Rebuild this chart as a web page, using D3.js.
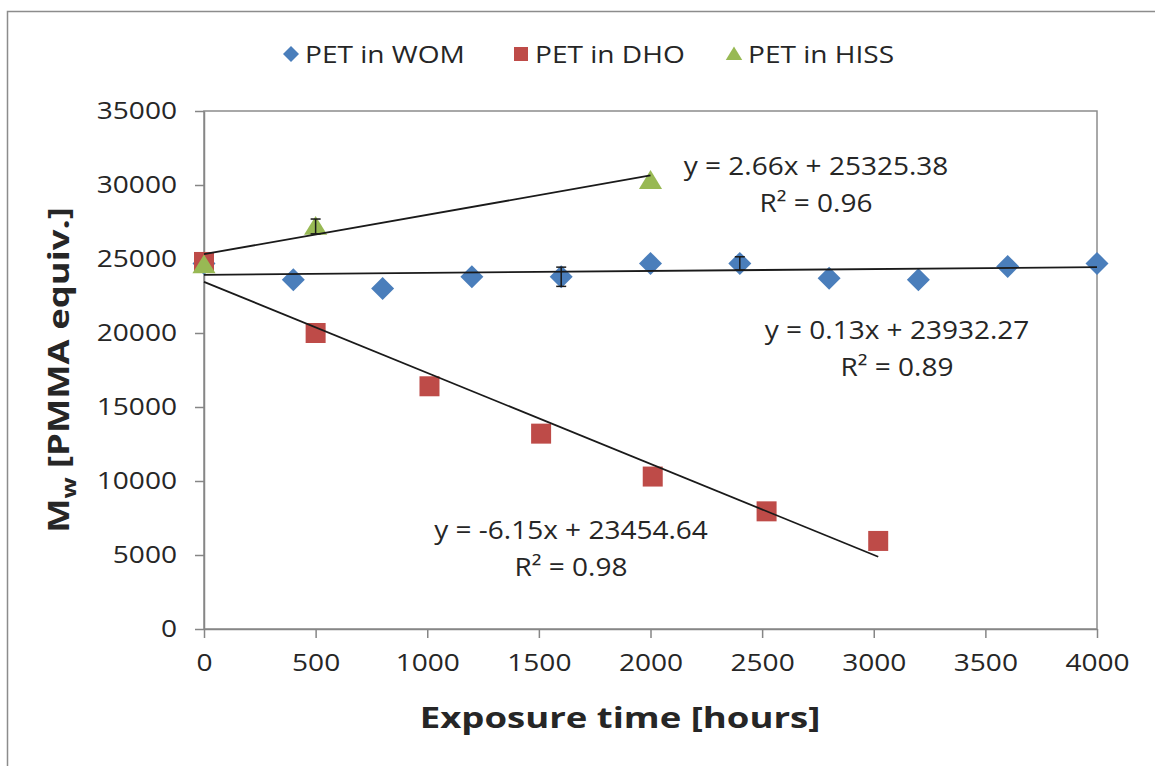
<!DOCTYPE html>
<html>
<head>
<meta charset="utf-8">
<script src="https://cdn.jsdelivr.net/npm/d3@7"></script>
<style>
  body { margin: 0; background: #fff; }
  text { font-family: "Open Sans", "Noto Sans", sans-serif; fill: #262626; }
</style>
</head>
<body>
<script>
// data
const womX = [0, 400, 800, 1200, 1600, 2000, 2400, 2800, 3200, 3600, 4000];
const womY = [24700, 23600, 23000, 23800, 23800, 24700, 24700, 23700, 23600, 24500, 24700];
const womErr = [0, 0, 0, 0, 650, 0, 450, 0, 0, 0, 0];

const dhoX = [0, 500, 1010, 1510, 2010, 2520, 3020];
const dhoY = [24800, 20000, 16400, 13200, 10300, 7950, 5950];

const hissX = [0, 500, 2000];
const hissY = [24600, 27200, 30300];
const hissErr = [0, 500, 0];

const seriesNames = ["PET in WOM", "PET in DHO", "PET in HISS"];
const fitSlope = [0.13, -6.15, 2.66];
const fitIntercept = [23932.27, 23454.64, 25325.38];
const fitText = ["y = 0.13x + 23932.27", "y = -6.15x + 23454.64", "y = 2.66x + 25325.38"];
const r2Text = ["R² = 0.89", "R² = 0.98", "R² = 0.96"];

const xTicks = [0, 500, 1000, 1500, 2000, 2500, 3000, 3500, 4000];
const yTicks = [0, 5000, 10000, 15000, 20000, 25000, 30000, 35000];

const W = 1155, H = 766,
      margin = {top: 111, right: 58, bottom: 137, left: 204},
      colors = ["#4a7ebb", "#be4b48", "#98b954"];

// the reference text is a bit wider than Open Sans, stretch it sideways
const stretchTick = 1.17, stretchEq = 1.12, stretchTitle = 1.26;

const svg = d3.select("body").append("svg")
  .attr("width", W)
  .attr("height", H);

// outer chart border
svg.append("rect")
  .attr("x", 7.5).attr("y", 11.5)
  .attr("width", W + 10).attr("height", H + 10)
  .attr("fill", "none").attr("stroke", "#8c8c8c").attr("stroke-width", 1.5);

const xScale = d3.scaleLinear().domain([0, 4000]).range([margin.left, W - margin.right]);
const yScale = d3.scaleLinear().domain([0, 35000]).range([H - margin.bottom, margin.top]);

// plot area border
svg.append("rect")
  .attr("x", xScale(0)).attr("y", yScale(35000))
  .attr("width", xScale(4000) - xScale(0))
  .attr("height", yScale(0) - yScale(35000))
  .attr("fill", "none").attr("stroke", "#8c8c8c").attr("stroke-width", 1.5);

const xAxis = d3.axisBottom(xScale).tickValues(xTicks).tickFormat(d3.format("d"))
  .tickSizeInner(9).tickSizeOuter(0).tickPadding(16);
const yAxis = d3.axisLeft(yScale).tickValues(yTicks).tickFormat(d3.format("d"))
  .tickSizeInner(9).tickSizeOuter(0);

const gx = svg.append("g")
  .attr("transform", "translate(0," + yScale(0) + ")")
  .call(xAxis);
const gy = svg.append("g")
  .attr("transform", "translate(" + xScale(0) + ",0)")
  .call(yAxis);

[gx, gy].forEach((g) => {
  g.selectAll("path, line").attr("stroke", "#868686").attr("stroke-width", 1.5);
  g.selectAll("text").style("font-size", "24px").attr("fill", "#333")
    .attr("transform", "scale(" + stretchTick + ",1)");
});
gy.selectAll("text").attr("x", -27 / stretchTick);

const series = [
  {x: womX, y: womY, err: womErr},
  {x: dhoX, y: dhoY, err: dhoX.map(() => 0)},
  {x: hissX, y: hissY, err: hissErr}
];

// marker shapes: diamond, square, triangle
const markerPath = [
  (r) => "M0," + (-r) + "L" + r + ",0L0," + r + "L" + (-r) + ",0Z",
  (r) => "M" + (-r) + "," + (-r) + "H" + r + "V" + r + "H" + (-r) + "Z",
  (r) => "M0," + (-r) + "L" + (r * 1.1) + "," + (r * 0.8) + "H" + (-r * 1.1) + "Z"
];
const markerR = [11.5, 10, 10.5];

// markers
series.forEach((s, i) => {
  const pts = s.x.map((x, j) => ({x: x, y: s.y[j], e: s.err[j]}));
  svg.append("g").selectAll("path")
    .data(pts).enter()
    .append("path")
    .attr("d", markerPath[i](markerR[i]))
    .attr("transform", (d) => "translate(" + xScale(d.x) + "," + yScale(d.y) + ")")
    .attr("fill", colors[i]);

  // error bars
  const eb = svg.append("g").selectAll("g")
    .data(pts.filter((d) => d.e > 0)).enter()
    .append("g")
    .attr("stroke", "#1a1a1a").attr("stroke-width", 1.5);
  eb.append("line")
    .attr("x1", (d) => xScale(d.x)).attr("x2", (d) => xScale(d.x))
    .attr("y1", (d) => yScale(d.y - d.e)).attr("y2", (d) => yScale(d.y + d.e));
  [-1, 1].forEach((sg) => {
    eb.append("line")
      .attr("x1", (d) => xScale(d.x) - 5).attr("x2", (d) => xScale(d.x) + 5)
      .attr("y1", (d) => yScale(d.y + sg * d.e)).attr("y2", (d) => yScale(d.y + sg * d.e));
  });
});

// trend lines
series.forEach((s, i) => {
  const x0 = d3.min(s.x), x1 = d3.max(s.x);
  svg.append("line")
    .attr("x1", xScale(x0)).attr("y1", yScale(fitSlope[i] * x0 + fitIntercept[i]))
    .attr("x2", xScale(x1)).attr("y2", yScale(fitSlope[i] * x1 + fitIntercept[i]))
    .attr("stroke", "#1a1a1a").attr("stroke-width", 1.8);
});

// equation labels
const labelPos = [[897, 330], [571, 530], [816, 166]];
labelPos.forEach((p, i) => {
  svg.append("text")
    .attr("transform", "translate(" + p[0] + "," + (p[1] + 9) + ") scale(" + stretchEq + ",1)")
    .attr("text-anchor", "middle").style("font-size", "25px").text(fitText[i]);
  svg.append("text")
    .attr("transform", "translate(" + p[0] + "," + (p[1] + 46) + ") scale(" + stretchEq + ",1)")
    .attr("text-anchor", "middle").style("font-size", "25px").text(r2Text[i]);
});

// legend
const legendX = [291, 521, 734];
const leg = svg.append("g").selectAll("g")
  .data(seriesNames).enter()
  .append("g")
  .attr("transform", (d, i) => "translate(" + legendX[i] + ",54)");
leg.append("path")
  .attr("d", (d, i) => markerPath[i]([8, 7, 7.5][i]))
  .attr("fill", (d, i) => colors[i]);
leg.append("text")
  .attr("transform", "translate(14,9) scale(" + stretchTick + ",1)")
  .style("font-size", "24px")
  .text((d) => d);

// axis titles
svg.append("text")
  .attr("transform", "translate(620,728) scale(" + stretchTitle + ",1)")
  .attr("text-anchor", "middle")
  .style("font-size", "29px").style("font-weight", "bold")
  .text("Exposure time [hours]");

const yt = svg.append("text")
  .attr("transform", "translate(69,370) rotate(-90) scale(1.3,1)")
  .attr("text-anchor", "middle")
  .style("font-size", "28px").style("font-weight", "bold");
yt.append("tspan").text("M");
yt.append("tspan").attr("dy", 7).style("font-size", "19px").text("w");
yt.append("tspan").attr("dy", -7).text(" [PMMA equiv.]");
</script>
</body>
</html>
